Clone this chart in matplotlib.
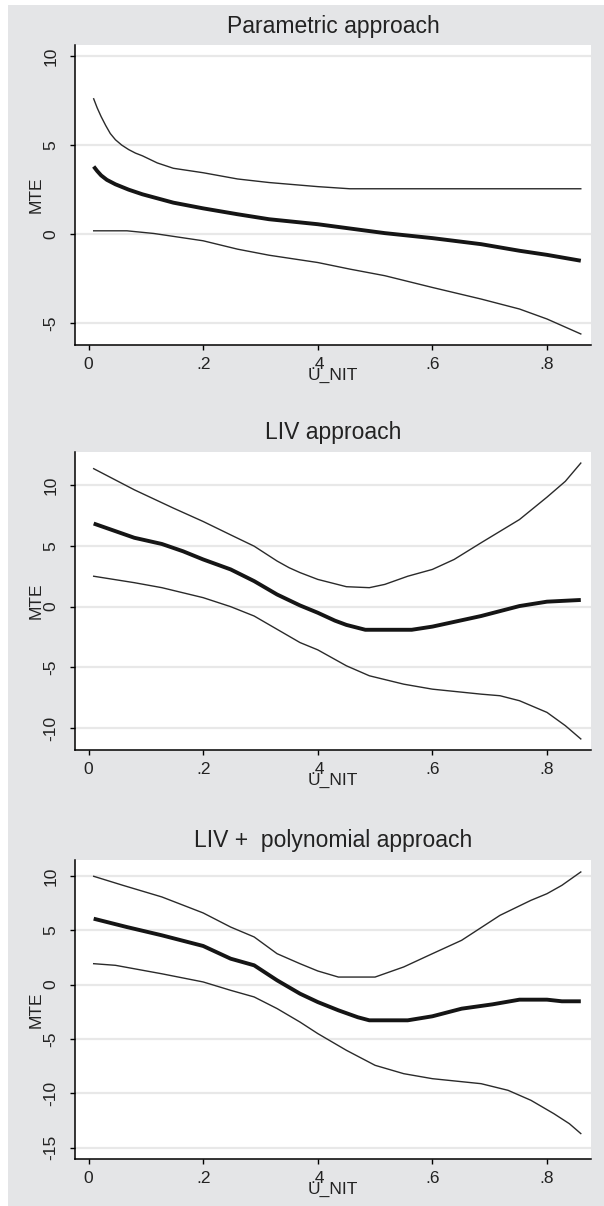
import matplotlib
matplotlib.use("Agg")
import matplotlib.pyplot as plt
from matplotlib.patches import Rectangle

plt.rcParams['font.family'] = ['Liberation Sans', 'DejaVu Sans']

# ---------------- data ----------------
titles = ["Parametric approach", "LIV approach", "LIV +  polynomial approach"]
x_label = "U_NIT"
y_label = "MTE"
x_ticks = [0, 0.2, 0.4, 0.6, 0.8]
x_tick_labels = ["0", ".2", ".4", ".6", ".8"]
y_ticks_par = [-5, 0, 5, 10]
y_ticks_liv = [-10, -5, 0, 5, 10]
y_ticks_poly = [-15, -10, -5, 0, 5, 10]

# Parametric approach
par_hi_u = [0.009, 0.015, 0.022, 0.03, 0.038, 0.047, 0.058, 0.07, 0.082, 0.094, 0.12, 0.148, 0.2, 0.26, 0.315, 0.4, 0.456, 0.55, 0.65, 0.75, 0.859]
par_hi_y = [7.6, 7.1, 6.6, 6.1, 5.65, 5.3, 5.0, 4.75, 4.55, 4.4, 4.0, 3.7, 3.45, 3.1, 2.9, 2.67, 2.55, 2.55, 2.55, 2.55, 2.55]
par_mid_u = [0.009, 0.015, 0.022, 0.032, 0.047, 0.07, 0.094, 0.148, 0.2, 0.26, 0.315, 0.4, 0.456, 0.517, 0.6, 0.685, 0.752, 0.8, 0.859]
par_mid_y = [3.8, 3.55, 3.3, 3.05, 2.8, 2.5, 2.24, 1.77, 1.45, 1.12, 0.84, 0.56, 0.32, 0.06, -0.22, -0.56, -0.93, -1.16, -1.49]
par_lo_u = [0.009, 0.067, 0.114, 0.2, 0.26, 0.315, 0.4, 0.456, 0.517, 0.6, 0.685, 0.752, 0.8, 0.859]
par_lo_y = [0.19, 0.19, 0.04, -0.37, -0.84, -1.18, -1.59, -1.96, -2.33, -2.99, -3.64, -4.2, -4.76, -5.6]

# LIV approach
liv_hi_u = [0.009, 0.08, 0.148, 0.2, 0.248, 0.289, 0.329, 0.35, 0.369, 0.4, 0.45, 0.49, 0.517, 0.557, 0.6, 0.638, 0.685, 0.752, 0.8, 0.832, 0.859]
liv_hi_y = [11.34, 9.6, 8.1, 7.0, 5.9, 4.97, 3.75, 3.2, 2.8, 2.24, 1.64, 1.56, 1.83, 2.5, 3.06, 3.88, 5.25, 7.16, 9.0, 10.3, 11.8]
liv_mid_u = [0.009, 0.08, 0.128, 0.165, 0.2, 0.248, 0.289, 0.329, 0.369, 0.4, 0.43, 0.45, 0.483, 0.564, 0.6, 0.685, 0.752, 0.8, 0.859]
liv_mid_y = [6.83, 5.66, 5.15, 4.55, 3.88, 3.06, 2.1, 1.0, 0.1, -0.5, -1.15, -1.5, -1.9, -1.9, -1.64, -0.77, 0.05, 0.41, 0.55]
liv_lo_u = [0.009, 0.08, 0.128, 0.2, 0.248, 0.289, 0.329, 0.369, 0.4, 0.45, 0.49, 0.55, 0.6, 0.685, 0.718, 0.752, 0.8, 0.832, 0.859]
liv_lo_y = [2.5, 1.97, 1.56, 0.74, 0.0, -0.77, -1.86, -2.95, -3.55, -4.86, -5.68, -6.37, -6.78, -7.19, -7.32, -7.73, -8.69, -9.78, -10.87]

# LIV + polynomial approach
poly_hi_u = [0.009, 0.06, 0.128, 0.2, 0.248, 0.289, 0.329, 0.369, 0.4, 0.436, 0.5, 0.55, 0.6, 0.651, 0.718, 0.772, 0.8, 0.826, 0.859]
poly_hi_y = [9.97, 9.14, 8.07, 6.6, 5.3, 4.39, 2.85, 1.93, 1.26, 0.7, 0.7, 1.63, 2.85, 4.08, 6.38, 7.76, 8.37, 9.14, 10.37]
poly_mid_u = [0.009, 0.067, 0.128, 0.2, 0.248, 0.289, 0.329, 0.369, 0.4, 0.436, 0.47, 0.49, 0.557, 0.6, 0.651, 0.705, 0.752, 0.8, 0.826, 0.859]
poly_mid_y = [6.07, 5.3, 4.54, 3.56, 2.39, 1.78, 0.4, -0.83, -1.6, -2.36, -3.0, -3.28, -3.28, -2.91, -2.21, -1.81, -1.38, -1.38, -1.53, -1.53]
poly_lo_u = [0.009, 0.047, 0.128, 0.2, 0.248, 0.289, 0.329, 0.369, 0.4, 0.45, 0.5, 0.55, 0.6, 0.685, 0.732, 0.772, 0.812, 0.839, 0.859]
poly_lo_y = [1.93, 1.78, 1.0, 0.25, -0.52, -1.13, -2.2, -3.44, -4.5, -6.04, -7.42, -8.19, -8.65, -9.11, -9.72, -10.64, -11.87, -12.79, -13.7]

# ---------------- layout ----------------
W, H = 604, 1206
DPI = 100
fig = plt.figure(figsize=(W / DPI, H / DPI), dpi=DPI, facecolor="white")
bg = "#e4e5e7"
fig.patches.append(Rectangle((8 / W, 0), 1 - 8 / W, 1 - 5 / H, transform=fig.transFigure,
                             facecolor=bg, edgecolor="none", zorder=-10))

left_px, right_px = 75, 591
panels = [
    dict(top=45, bottom=345, ylim=(-6.22, 10.62), yticks=y_ticks_par,
         lines=[(par_hi_u, par_hi_y, False), (par_mid_u, par_mid_y, True), (par_lo_u, par_lo_y, False)]),
    dict(top=452, bottom=750, ylim=(-11.78, 12.71), yticks=y_ticks_liv,
         lines=[(liv_hi_u, liv_hi_y, False), (liv_mid_u, liv_mid_y, True), (liv_lo_u, liv_lo_y, False)]),
    dict(top=860, bottom=1159, ylim=(-16.04, 11.47), yticks=y_ticks_poly,
         lines=[(poly_hi_u, poly_hi_y, False), (poly_mid_u, poly_mid_y, True), (poly_lo_u, poly_lo_y, False)]),
]

for title, p in zip(titles, panels):
    h_px = p["bottom"] - p["top"]
    w_px = right_px - left_px
    ax = fig.add_axes([left_px / W, (H - p["bottom"]) / H, w_px / W, h_px / H])
    ax.set_facecolor("white")
    for u, y, thick in p["lines"]:
        if thick:
            ax.plot(u, y, color="#151515", lw=2.8, solid_joinstyle="round", solid_capstyle="butt", zorder=3)
        else:
            ax.plot(u, y, color="#2a2a2a", lw=1.0, solid_joinstyle="round", zorder=3)
    ax.set_xlim(-0.0236, 0.8768)
    ax.set_ylim(*p["ylim"])
    ax.set_xticks(x_ticks)
    ax.set_xticklabels(x_tick_labels)
    ax.set_yticks(p["yticks"])
    ax.set_yticklabels([str(t) for t in p["yticks"]], rotation=90, va="center")
    ax.yaxis.grid(True, color="#e8e8e8", lw=1.6)
    ax.xaxis.grid(False)
    ax.set_axisbelow(True)
    for s in ("top", "right"):
        ax.spines[s].set_visible(False)
    for s in ("left", "bottom"):
        ax.spines[s].set_color("black")
        ax.spines[s].set_linewidth(1.1)
    ax.tick_params(axis="both", direction="out", length=3.8, width=1.0, colors="black",
                   labelsize=12.5, labelcolor="#222222")
    ax.tick_params(axis="x", pad=4.5)
    ax.tick_params(axis="y", pad=8)
    ax.set_title(title, fontsize=16.5, color="#222222", y=1 + 19 / h_px, va="center", pad=0)
    ax.set_xlabel(x_label, fontsize=12.5, color="#222222", va="center")
    ax.xaxis.set_label_coords(0.5, -30 / h_px)
    ax.set_ylabel(y_label, fontsize=12.5, color="#222222", va="center")
    ax.yaxis.set_label_coords(-39 / w_px, 0.5)

fig.savefig("out.png", dpi=DPI, facecolor=fig.get_facecolor())
